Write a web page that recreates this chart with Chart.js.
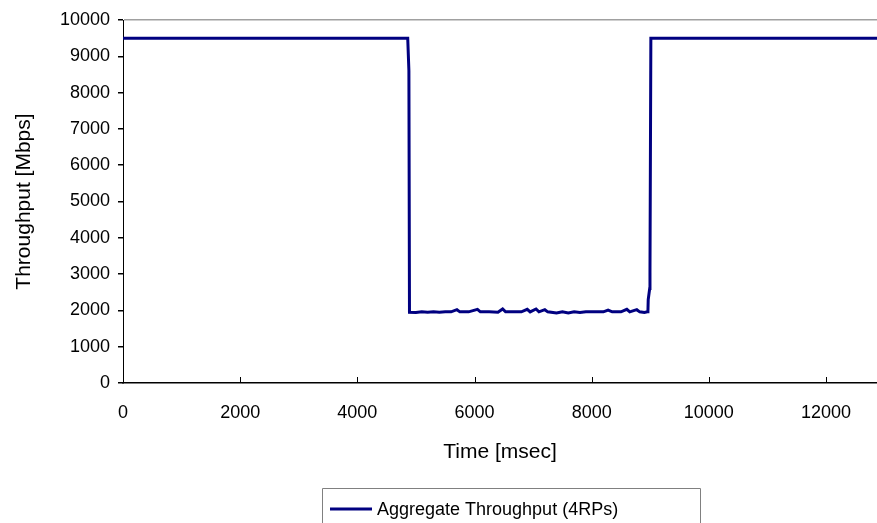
<!DOCTYPE html>
<html>
<head>
<meta charset="utf-8">
<script src="https://cdn.jsdelivr.net/npm/chart.js@4"></script>
<style>
  html, body { margin: 0; padding: 0; background: #fff; }
  #wrap { width: 877px; height: 523px; }
</style>
</head>
<body>
<div id="wrap"><canvas id="tp-chart" width="877" height="523"></canvas></div>
<script>
// time axis in msec, throughput in Mbps
const timeMs = [0, 4860, 4880, 4890,
    5000, 5100, 5200, 5300, 5400, 5500, 5600, 5700, 5750, 5900,
    6050, 6100, 6250, 6400, 6480, 6530, 6650, 6800, 6900, 6950,
    7050, 7100, 7200, 7250, 7400, 7500, 7600, 7700, 7800, 7900,
    8050, 8200, 8280, 8350, 8500, 8600, 8650, 8770, 8820, 8900,
    8950, 8960, 8965, 8990, 8995, 9010, 12900];
const throughput = [9500, 9500, 8600, 1950,
    1940, 1960, 1950, 1960, 1950, 1960, 1960, 2020, 1960, 1960,
    2030, 1960, 1960, 1950, 2040, 1960, 1960, 1960, 2030, 1960,
    2040, 1960, 2020, 1960, 1930, 1960, 1930, 1960, 1940, 1960,
    1960, 1960, 2010, 1960, 1960, 2030, 1960, 2020, 1960, 1940,
    1960, 1980, 2300, 2600, 3050, 9500, 9500];
const xTicks = [0, 2000, 4000, 6000, 8000, 10000, 12000];
const seriesName = 'Aggregate Throughput (4RPs)';

const FONT = 'Liberation Sans, Arial, sans-serif';

// x ticks point up into the plot, legend is a framed box at the bottom
const extras = {
    id: 'extras',
    afterDatasetsDraw(chart) {
        const ctx = chart.ctx;
        const xs = chart.scales.x;
        ctx.save();
        ctx.strokeStyle = '#000';
        ctx.lineWidth = 1;
        xTicks.forEach(v => {
            const px = Math.round(xs.getPixelForValue(v)) + 0.5;
            ctx.beginPath();
            ctx.moveTo(px, xs.top);
            ctx.lineTo(px, xs.top - 6);
            ctx.stroke();
        });
        ctx.restore();
    },
    afterDraw(chart) {
        const ctx = chart.ctx;
        const ds = chart.data.datasets[0];
        ctx.save();
        ctx.strokeStyle = '#808080';
        ctx.lineWidth = 1;
        ctx.beginPath();
        ctx.moveTo(322.5, 530);
        ctx.lineTo(322.5, 488.5);
        ctx.lineTo(700.5, 488.5);
        ctx.lineTo(700.5, 530);
        ctx.stroke();
        ctx.strokeStyle = ds.borderColor;
        ctx.lineWidth = ds.borderWidth;
        ctx.beginPath();
        ctx.moveTo(330, 509);
        ctx.lineTo(372, 509);
        ctx.stroke();
        ctx.fillStyle = '#000';
        ctx.font = '18px ' + FONT;
        ctx.textBaseline = 'middle';
        ctx.fillText(ds.label, 377, 510);
        ctx.restore();
    }
};

const ctx = document.getElementById('tp-chart').getContext('2d');
new Chart(ctx, {
    type: 'line',
    data: {
        datasets: [{
            label: seriesName,
            data: timeMs.map((t, i) => ({ x: t, y: throughput[i] })),
            borderColor: '#000080',
            borderWidth: 3,
            pointRadius: 0,
            tension: 0,
            fill: false,
        }],
    },
    options: {
        responsive: false,
        animation: false,
        layout: { padding: { top: 20, right: 0, bottom: 0, left: 0 } },
        plugins: { legend: { display: false }, tooltip: { enabled: false } },
        scales: {
            x: {
                type: 'linear',
                min: 0,
                max: 12870,
                afterBuildTicks: axis => { axis.ticks = xTicks.map(v => ({ value: v })); },
                afterFit: axis => { axis.height = 140; },
                grid: { drawOnChartArea: false, drawTicks: false },
                border: { color: '#000', width: 1.5 },
                ticks: {
                    color: '#000', padding: 19, maxRotation: 0,
                    font: { family: FONT, size: 18 },
                    callback: v => String(v),
                },
                title: {
                    display: true, text: 'Time [msec]', color: '#000',
                    font: { family: FONT, size: 21 },
                    padding: { top: 0, bottom: 58 },
                },
            },
            y: {
                min: 0,
                max: 10000,
                afterFit: axis => { axis.width = 123; },
                ticks: {
                    stepSize: 1000, color: '#000', padding: 8,
                    font: { family: FONT, size: 18 },
                    callback: v => String(v),
                },
                grid: {
                    color: c => (c.tick && c.tick.value === 10000) ? '#a0a0a0' : 'rgba(0,0,0,0)',
                    lineWidth: 1.5,
                    tickColor: '#000',
                    tickLength: 5,
                },
                border: { color: '#000', width: 1 },
                title: {
                    display: true, text: 'Throughput [Mbps]', color: '#000',
                    font: { family: FONT, size: 21 },
                    padding: { top: 12, bottom: 0 },
                },
            },
        },
    },
    plugins: [extras],
});
</script>
</body>
</html>
